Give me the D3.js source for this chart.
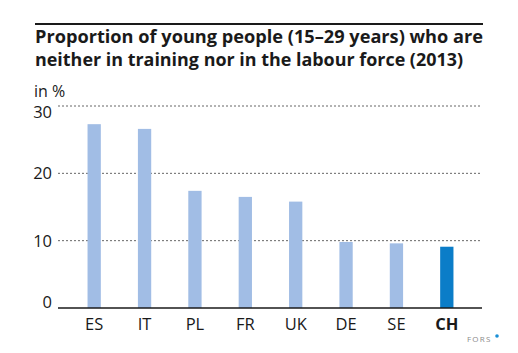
<!DOCTYPE html>
<html>
<head>
<meta charset="utf-8">
<script src="https://cdn.jsdelivr.net/npm/d3@7"></script>
<style>
  body { margin: 0; background: #fff; }
  text { font-family: "Open Sans", sans-serif; fill: #1a1a1a; }
</style>
</head>
<body>
<svg id="chart" width="518" height="353"></svg>
<script>
let countries = ["ES", "IT", "PL", "FR", "UK", "DE", "SE", "CH"],
  values = [27.3, 26.6, 17.4, 16.5, 15.8, 9.8, 9.6, 9.1],
  yTicks = [0, 10, 20, 30],
  titleLines = ["Proportion of young people (15–29 years) who are",
    "neither in training nor in the labour force (2013)"]

let svg = d3.select("#chart")

let x = d3.scaleBand()
  .domain(countries)
  .range([69, 472])
  .paddingInner(0.736)
  .paddingOuter(0.368)

let y = d3.scaleLinear()
  .domain([0, 30])
  .range([308, 106])

// top rule and title
svg.append("line")
  .attr("x1", 35).attr("x2", 483)
  .attr("y1", 24).attr("y2", 24)
  .attr("stroke", "#1a1a1a")
  .attr("stroke-width", 2)

svg.selectAll(".title")
  .data(titleLines).enter()
  .append("text")
  .attr("class", "title")
  .attr("x", 35)
  .attr("y", (d, i) => 43 + i * 23)
  .attr("font-size", 17.5)
  .attr("font-weight", "bold")
  .attr("textLength", (d, i) => i == 0 ? 448 : 428)
  .attr("lengthAdjust", "spacingAndGlyphs")
  .text(d => d)

svg.append("text")
  .attr("x", 34)
  .attr("y", 97)
  .attr("font-size", 16)
  .text("in %")

// gridlines
svg.append("g")
  .selectAll("line")
  .data(yTicks.filter(d => d > 0)).enter()
  .append("line")
  .attr("x1", 58).attr("x2", 482)
  .attr("y1", d => y(d)).attr("y2", d => y(d))
  .attr("stroke", "#666")
  .attr("stroke-width", 1)
  .attr("stroke-dasharray", "2,2")

// y tick labels (top one pushed below its line, under "in %")
svg.append("g")
  .selectAll("text")
  .data(yTicks).enter()
  .append("text")
  .attr("x", 52)
  .attr("y", d => y(d) + (d == 0 ? 0 : d == 30 ? 12 : 6))
  .attr("text-anchor", "end")
  .attr("font-size", 16.5)
  .text(d => d)

// bars
svg.append("g")
  .selectAll("rect")
  .data(countries).enter()
  .append("rect")
  .attr("x", d => x(d))
  .attr("width", x.bandwidth())
  .attr("y", (d, i) => y(values[i]))
  .attr("height", (d, i) => y(0) - y(values[i]))
  .attr("fill", d => d == "CH" ? "#0b7dc8" : "#a1bde5")

// x axis
let xAxis = svg.append("g")
  .attr("transform", `translate(0, ${y(0)})`)
  .call(d3.axisBottom(x).tickSize(0).tickPadding(10))
xAxis.select(".domain")
  .attr("d", "M58,0H482")
  .attr("stroke", "#1a1a1a")
  .attr("stroke-width", 1.5)
xAxis.selectAll("text")
  .attr("font-size", 16.5)
  .attr("fill", "#1a1a1a")
  .attr("font-weight", d => d == "CH" ? "bold" : "normal")

// source logo
svg.append("text")
  .attr("x", 467)
  .attr("y", 342)
  .attr("font-size", 8)
  .attr("letter-spacing", 1.2)
  .style("fill", "#8a8a8a")
  .text("FORS")
svg.append("circle")
  .attr("cx", 497)
  .attr("cy", 336)
  .attr("r", 1.8)
  .attr("fill", "#1a8fd6")
</script>
</body>
</html>
